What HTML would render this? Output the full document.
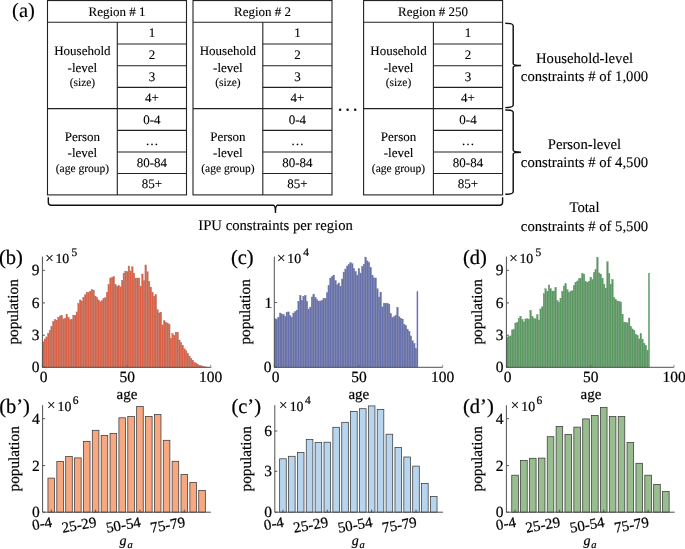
<!DOCTYPE html>
<html><head><meta charset="utf-8"><style>
html,body{margin:0;padding:0;background:#fff;}
body{width:685px;height:549px;overflow:hidden;}
svg{display:block;font-family:"Liberation Serif", serif;fill:#111;text-rendering:geometricPrecision;will-change:transform;}
svg text{fill:#000;stroke:#000;stroke-width:0.12px;}
.ch text{stroke:#000;stroke-width:0.22px;}
</style></head><body>
<svg width="685" height="549" viewBox="0 0 685 549">
<rect x="47.5" y="0.55" width="139.0" height="194.35" stroke="#222" stroke-width="1.1" fill="none"/>
<line x1="47.5" y1="22.3" x2="186.5" y2="22.3" stroke="#222" stroke-width="1.1" fill="none"/>
<line x1="47.5" y1="108.6" x2="186.5" y2="108.6" stroke="#222" stroke-width="1.1" fill="none"/>
<line x1="117.3" y1="22.3" x2="117.3" y2="194.9" stroke="#222" stroke-width="1.1" fill="none"/>
<line x1="117.3" y1="44.0" x2="186.5" y2="44.0" stroke="#222" stroke-width="1.1" fill="none"/>
<line x1="117.3" y1="65.7" x2="186.5" y2="65.7" stroke="#222" stroke-width="1.1" fill="none"/>
<line x1="117.3" y1="87.4" x2="186.5" y2="87.4" stroke="#222" stroke-width="1.1" fill="none"/>
<line x1="117.3" y1="130.4" x2="186.5" y2="130.4" stroke="#222" stroke-width="1.1" fill="none"/>
<line x1="117.3" y1="152.0" x2="186.5" y2="152.0" stroke="#222" stroke-width="1.1" fill="none"/>
<line x1="117.3" y1="173.5" x2="186.5" y2="173.5" stroke="#222" stroke-width="1.1" fill="none"/>
<text x="117.0" y="16.3" font-size="13" text-anchor="middle" >Region # 1</text>
<text x="82.4" y="55.3" font-size="13" text-anchor="middle" >Household</text>
<text x="82.4" y="71.7" font-size="13" text-anchor="middle" >-level</text>
<text x="82.4" y="85.8" font-size="11.5" text-anchor="middle" >(size)</text>
<text x="82.4" y="141.2" font-size="13" text-anchor="middle" >Person</text>
<text x="82.4" y="156.6" font-size="13" text-anchor="middle" >-level</text>
<text x="82.4" y="171.5" font-size="11.5" text-anchor="middle" >(age group)</text>
<text x="151.9" y="37.35" font-size="13" text-anchor="middle" >1</text>
<text x="151.9" y="59.050000000000004" font-size="13" text-anchor="middle" >2</text>
<text x="151.9" y="80.75000000000001" font-size="13" text-anchor="middle" >3</text>
<text x="151.9" y="102.2" font-size="13" text-anchor="middle" >4+</text>
<text x="151.9" y="123.7" font-size="13" text-anchor="middle" >0-4</text>
<text x="151.9" y="145.39999999999998" font-size="13" text-anchor="middle" >…</text>
<text x="151.9" y="166.95" font-size="13" text-anchor="middle" >80-84</text>
<text x="151.9" y="188.39999999999998" font-size="13" text-anchor="middle" >85+</text>
<rect x="193.0" y="0.55" width="139.0" height="194.35" stroke="#222" stroke-width="1.1" fill="none"/>
<line x1="193.0" y1="22.3" x2="332.0" y2="22.3" stroke="#222" stroke-width="1.1" fill="none"/>
<line x1="193.0" y1="108.6" x2="332.0" y2="108.6" stroke="#222" stroke-width="1.1" fill="none"/>
<line x1="262.8" y1="22.3" x2="262.8" y2="194.9" stroke="#222" stroke-width="1.1" fill="none"/>
<line x1="262.8" y1="44.0" x2="332.0" y2="44.0" stroke="#222" stroke-width="1.1" fill="none"/>
<line x1="262.8" y1="65.7" x2="332.0" y2="65.7" stroke="#222" stroke-width="1.1" fill="none"/>
<line x1="262.8" y1="87.4" x2="332.0" y2="87.4" stroke="#222" stroke-width="1.1" fill="none"/>
<line x1="262.8" y1="130.4" x2="332.0" y2="130.4" stroke="#222" stroke-width="1.1" fill="none"/>
<line x1="262.8" y1="152.0" x2="332.0" y2="152.0" stroke="#222" stroke-width="1.1" fill="none"/>
<line x1="262.8" y1="173.5" x2="332.0" y2="173.5" stroke="#222" stroke-width="1.1" fill="none"/>
<text x="262.5" y="16.3" font-size="13" text-anchor="middle" >Region # 2</text>
<text x="227.9" y="55.3" font-size="13" text-anchor="middle" >Household</text>
<text x="227.9" y="71.7" font-size="13" text-anchor="middle" >-level</text>
<text x="227.9" y="85.8" font-size="11.5" text-anchor="middle" >(size)</text>
<text x="227.9" y="141.2" font-size="13" text-anchor="middle" >Person</text>
<text x="227.9" y="156.6" font-size="13" text-anchor="middle" >-level</text>
<text x="227.9" y="171.5" font-size="11.5" text-anchor="middle" >(age group)</text>
<text x="297.4" y="37.35" font-size="13" text-anchor="middle" >1</text>
<text x="297.4" y="59.050000000000004" font-size="13" text-anchor="middle" >2</text>
<text x="297.4" y="80.75000000000001" font-size="13" text-anchor="middle" >3</text>
<text x="297.4" y="102.2" font-size="13" text-anchor="middle" >4+</text>
<text x="297.4" y="123.7" font-size="13" text-anchor="middle" >0-4</text>
<text x="297.4" y="145.39999999999998" font-size="13" text-anchor="middle" >…</text>
<text x="297.4" y="166.95" font-size="13" text-anchor="middle" >80-84</text>
<text x="297.4" y="188.39999999999998" font-size="13" text-anchor="middle" >85+</text>
<rect x="363.6" y="0.55" width="139.0" height="194.35" stroke="#222" stroke-width="1.1" fill="none"/>
<line x1="363.6" y1="22.3" x2="502.6" y2="22.3" stroke="#222" stroke-width="1.1" fill="none"/>
<line x1="363.6" y1="108.6" x2="502.6" y2="108.6" stroke="#222" stroke-width="1.1" fill="none"/>
<line x1="433.40000000000003" y1="22.3" x2="433.40000000000003" y2="194.9" stroke="#222" stroke-width="1.1" fill="none"/>
<line x1="433.40000000000003" y1="44.0" x2="502.6" y2="44.0" stroke="#222" stroke-width="1.1" fill="none"/>
<line x1="433.40000000000003" y1="65.7" x2="502.6" y2="65.7" stroke="#222" stroke-width="1.1" fill="none"/>
<line x1="433.40000000000003" y1="87.4" x2="502.6" y2="87.4" stroke="#222" stroke-width="1.1" fill="none"/>
<line x1="433.40000000000003" y1="130.4" x2="502.6" y2="130.4" stroke="#222" stroke-width="1.1" fill="none"/>
<line x1="433.40000000000003" y1="152.0" x2="502.6" y2="152.0" stroke="#222" stroke-width="1.1" fill="none"/>
<line x1="433.40000000000003" y1="173.5" x2="502.6" y2="173.5" stroke="#222" stroke-width="1.1" fill="none"/>
<text x="433.1" y="16.3" font-size="13" text-anchor="middle" >Region # 250</text>
<text x="398.5" y="55.3" font-size="13" text-anchor="middle" >Household</text>
<text x="398.5" y="71.7" font-size="13" text-anchor="middle" >-level</text>
<text x="398.5" y="85.8" font-size="11.5" text-anchor="middle" >(size)</text>
<text x="398.5" y="141.2" font-size="13" text-anchor="middle" >Person</text>
<text x="398.5" y="156.6" font-size="13" text-anchor="middle" >-level</text>
<text x="398.5" y="171.5" font-size="11.5" text-anchor="middle" >(age group)</text>
<text x="468.0" y="37.35" font-size="13" text-anchor="middle" >1</text>
<text x="468.0" y="59.050000000000004" font-size="13" text-anchor="middle" >2</text>
<text x="468.0" y="80.75000000000001" font-size="13" text-anchor="middle" >3</text>
<text x="468.0" y="102.2" font-size="13" text-anchor="middle" >4+</text>
<text x="468.0" y="123.7" font-size="13" text-anchor="middle" >0-4</text>
<text x="468.0" y="145.39999999999998" font-size="13" text-anchor="middle" >…</text>
<text x="468.0" y="166.95" font-size="13" text-anchor="middle" >80-84</text>
<text x="468.0" y="188.39999999999998" font-size="13" text-anchor="middle" >85+</text>
<circle cx="340.1" cy="109.8" r="1.25" fill="#111"/>
<circle cx="347.6" cy="109.8" r="1.25" fill="#111"/>
<circle cx="355.2" cy="109.8" r="1.25" fill="#111"/>
<text x="12.1" y="17.0" font-size="20.5" text-anchor="start" >(a)</text>
<path d="M505.3,23.3 Q513.2,23.3 513.2,25.8 L513.2,63.650000000000006 Q513.2,65.45 521.0,65.45 Q513.2,65.45 513.2,67.25 L513.2,105.1 Q513.2,107.6 505.3,107.6" stroke="#111" stroke-width="1.45" fill="none"/>
<path d="M505.3,110.0 Q513.2,110.0 513.2,112.5 L513.2,150.35 Q513.2,152.15 521.0,152.15 Q513.2,152.15 513.2,153.95000000000002 L513.2,191.8 Q513.2,194.3 505.3,194.3" stroke="#111" stroke-width="1.45" fill="none"/>
<path d="M48.3,197.3 L48.3,202.3 Q48.3,205.3 51.3,205.3 L273.45,205.3 Q275.45,205.3 275.45,213.10000000000002 Q275.45,205.3 277.45,205.3 L499.6,205.3 Q502.6,205.3 502.6,202.3 L502.6,197.3" stroke="#111" stroke-width="1.4" fill="none"/>
<text x="275.6" y="229.5" font-size="14.7" text-anchor="middle" >IPU constraints per region</text>
<text x="584.5" y="62.5" font-size="14.7" text-anchor="middle" >Household-level</text>
<text x="584.5" y="80.5" font-size="14.7" text-anchor="middle" >constraints # of 1,000</text>
<text x="584.5" y="149" font-size="14.7" text-anchor="middle" >Person-level</text>
<text x="584.5" y="167" font-size="14.7" text-anchor="middle" >constraints # of 4,500</text>
<text x="584.5" y="212" font-size="14.7" text-anchor="middle" >Total</text>
<text x="584.5" y="230.5" font-size="14.7" text-anchor="middle" >constraints # of 5,500</text>
<g class="ch">
<rect x="42.40" y="341.80" width="1.680" height="25.50" fill="#de5f43" stroke="#b07a6e" stroke-width="0.35"/>
<rect x="44.08" y="338.90" width="1.680" height="28.40" fill="#de5f43" stroke="#b07a6e" stroke-width="0.35"/>
<rect x="45.76" y="336.90" width="1.680" height="30.40" fill="#de5f43" stroke="#b07a6e" stroke-width="0.35"/>
<rect x="47.44" y="333.20" width="1.680" height="34.10" fill="#de5f43" stroke="#b07a6e" stroke-width="0.35"/>
<rect x="49.12" y="330.30" width="1.680" height="37.00" fill="#de5f43" stroke="#b07a6e" stroke-width="0.35"/>
<rect x="50.80" y="326.20" width="1.680" height="41.10" fill="#de5f43" stroke="#b07a6e" stroke-width="0.35"/>
<rect x="52.48" y="321.30" width="1.680" height="46.00" fill="#de5f43" stroke="#b07a6e" stroke-width="0.35"/>
<rect x="54.16" y="319.30" width="1.680" height="48.00" fill="#de5f43" stroke="#b07a6e" stroke-width="0.35"/>
<rect x="55.84" y="320.10" width="1.680" height="47.20" fill="#de5f43" stroke="#b07a6e" stroke-width="0.35"/>
<rect x="57.52" y="317.20" width="1.680" height="50.10" fill="#de5f43" stroke="#b07a6e" stroke-width="0.35"/>
<rect x="59.20" y="316.00" width="1.680" height="51.30" fill="#de5f43" stroke="#b07a6e" stroke-width="0.35"/>
<rect x="60.88" y="315.20" width="1.680" height="52.10" fill="#de5f43" stroke="#b07a6e" stroke-width="0.35"/>
<rect x="62.56" y="318.90" width="1.680" height="48.40" fill="#de5f43" stroke="#b07a6e" stroke-width="0.35"/>
<rect x="64.24" y="318.40" width="1.680" height="48.90" fill="#de5f43" stroke="#b07a6e" stroke-width="0.35"/>
<rect x="65.92" y="314.60" width="1.680" height="52.70" fill="#de5f43" stroke="#b07a6e" stroke-width="0.35"/>
<rect x="67.60" y="317.20" width="1.680" height="50.10" fill="#de5f43" stroke="#b07a6e" stroke-width="0.35"/>
<rect x="69.28" y="319.70" width="1.680" height="47.60" fill="#de5f43" stroke="#b07a6e" stroke-width="0.35"/>
<rect x="70.96" y="319.30" width="1.680" height="48.00" fill="#de5f43" stroke="#b07a6e" stroke-width="0.35"/>
<rect x="72.64" y="315.20" width="1.680" height="52.10" fill="#de5f43" stroke="#b07a6e" stroke-width="0.35"/>
<rect x="74.32" y="315.20" width="1.680" height="52.10" fill="#de5f43" stroke="#b07a6e" stroke-width="0.35"/>
<rect x="76.00" y="311.90" width="1.680" height="55.40" fill="#de5f43" stroke="#b07a6e" stroke-width="0.35"/>
<rect x="77.68" y="303.30" width="1.680" height="64.00" fill="#de5f43" stroke="#b07a6e" stroke-width="0.35"/>
<rect x="79.36" y="299.90" width="1.680" height="67.40" fill="#de5f43" stroke="#b07a6e" stroke-width="0.35"/>
<rect x="81.04" y="301.00" width="1.680" height="66.30" fill="#de5f43" stroke="#b07a6e" stroke-width="0.35"/>
<rect x="82.72" y="297.20" width="1.680" height="70.10" fill="#de5f43" stroke="#b07a6e" stroke-width="0.35"/>
<rect x="84.40" y="294.80" width="1.680" height="72.50" fill="#de5f43" stroke="#b07a6e" stroke-width="0.35"/>
<rect x="86.08" y="292.20" width="1.680" height="75.10" fill="#de5f43" stroke="#b07a6e" stroke-width="0.35"/>
<rect x="87.76" y="292.20" width="1.680" height="75.10" fill="#de5f43" stroke="#b07a6e" stroke-width="0.35"/>
<rect x="89.44" y="291.10" width="1.680" height="76.20" fill="#de5f43" stroke="#b07a6e" stroke-width="0.35"/>
<rect x="91.12" y="289.30" width="1.680" height="78.00" fill="#de5f43" stroke="#b07a6e" stroke-width="0.35"/>
<rect x="92.80" y="290.10" width="1.680" height="77.20" fill="#de5f43" stroke="#b07a6e" stroke-width="0.35"/>
<rect x="94.48" y="296.10" width="1.680" height="71.20" fill="#de5f43" stroke="#b07a6e" stroke-width="0.35"/>
<rect x="96.16" y="297.70" width="1.680" height="69.60" fill="#de5f43" stroke="#b07a6e" stroke-width="0.35"/>
<rect x="97.84" y="299.90" width="1.680" height="67.40" fill="#de5f43" stroke="#b07a6e" stroke-width="0.35"/>
<rect x="99.52" y="301.70" width="1.680" height="65.60" fill="#de5f43" stroke="#b07a6e" stroke-width="0.35"/>
<rect x="101.20" y="300.40" width="1.680" height="66.90" fill="#de5f43" stroke="#b07a6e" stroke-width="0.35"/>
<rect x="102.88" y="298.30" width="1.680" height="69.00" fill="#de5f43" stroke="#b07a6e" stroke-width="0.35"/>
<rect x="104.56" y="297.70" width="1.680" height="69.60" fill="#de5f43" stroke="#b07a6e" stroke-width="0.35"/>
<rect x="106.24" y="292.20" width="1.680" height="75.10" fill="#de5f43" stroke="#b07a6e" stroke-width="0.35"/>
<rect x="107.92" y="284.60" width="1.680" height="82.70" fill="#de5f43" stroke="#b07a6e" stroke-width="0.35"/>
<rect x="109.60" y="278.00" width="1.680" height="89.30" fill="#de5f43" stroke="#b07a6e" stroke-width="0.35"/>
<rect x="111.28" y="277.30" width="1.680" height="90.00" fill="#de5f43" stroke="#b07a6e" stroke-width="0.35"/>
<rect x="112.96" y="276.60" width="1.680" height="90.70" fill="#de5f43" stroke="#b07a6e" stroke-width="0.35"/>
<rect x="114.64" y="284.20" width="1.680" height="83.10" fill="#de5f43" stroke="#b07a6e" stroke-width="0.35"/>
<rect x="116.32" y="286.20" width="1.680" height="81.10" fill="#de5f43" stroke="#b07a6e" stroke-width="0.35"/>
<rect x="118.00" y="285.70" width="1.680" height="81.60" fill="#de5f43" stroke="#b07a6e" stroke-width="0.35"/>
<rect x="119.68" y="286.80" width="1.680" height="80.50" fill="#de5f43" stroke="#b07a6e" stroke-width="0.35"/>
<rect x="121.36" y="280.20" width="1.680" height="87.10" fill="#de5f43" stroke="#b07a6e" stroke-width="0.35"/>
<rect x="123.04" y="273.10" width="1.680" height="94.20" fill="#de5f43" stroke="#b07a6e" stroke-width="0.35"/>
<rect x="124.72" y="271.10" width="1.680" height="96.20" fill="#de5f43" stroke="#b07a6e" stroke-width="0.35"/>
<rect x="126.40" y="271.50" width="1.680" height="95.80" fill="#de5f43" stroke="#b07a6e" stroke-width="0.35"/>
<rect x="128.08" y="266.00" width="1.680" height="101.30" fill="#de5f43" stroke="#b07a6e" stroke-width="0.35"/>
<rect x="129.76" y="270.90" width="1.680" height="96.40" fill="#de5f43" stroke="#b07a6e" stroke-width="0.35"/>
<rect x="131.44" y="266.80" width="1.680" height="100.50" fill="#de5f43" stroke="#b07a6e" stroke-width="0.35"/>
<rect x="133.12" y="273.10" width="1.680" height="94.20" fill="#de5f43" stroke="#b07a6e" stroke-width="0.35"/>
<rect x="134.80" y="278.00" width="1.680" height="89.30" fill="#de5f43" stroke="#b07a6e" stroke-width="0.35"/>
<rect x="136.48" y="278.00" width="1.680" height="89.30" fill="#de5f43" stroke="#b07a6e" stroke-width="0.35"/>
<rect x="138.16" y="278.00" width="1.680" height="89.30" fill="#de5f43" stroke="#b07a6e" stroke-width="0.35"/>
<rect x="139.84" y="286.00" width="1.680" height="81.30" fill="#de5f43" stroke="#b07a6e" stroke-width="0.35"/>
<rect x="141.52" y="274.00" width="1.680" height="93.30" fill="#de5f43" stroke="#b07a6e" stroke-width="0.35"/>
<rect x="143.20" y="280.80" width="1.680" height="86.50" fill="#de5f43" stroke="#b07a6e" stroke-width="0.35"/>
<rect x="144.88" y="264.90" width="1.680" height="102.40" fill="#de5f43" stroke="#b07a6e" stroke-width="0.35"/>
<rect x="146.56" y="271.80" width="1.680" height="95.50" fill="#de5f43" stroke="#b07a6e" stroke-width="0.35"/>
<rect x="148.24" y="281.30" width="1.680" height="86.00" fill="#de5f43" stroke="#b07a6e" stroke-width="0.35"/>
<rect x="149.92" y="287.00" width="1.680" height="80.30" fill="#de5f43" stroke="#b07a6e" stroke-width="0.35"/>
<rect x="151.60" y="292.20" width="1.680" height="75.10" fill="#de5f43" stroke="#b07a6e" stroke-width="0.35"/>
<rect x="153.28" y="296.30" width="1.680" height="71.00" fill="#de5f43" stroke="#b07a6e" stroke-width="0.35"/>
<rect x="154.96" y="294.80" width="1.680" height="72.50" fill="#de5f43" stroke="#b07a6e" stroke-width="0.35"/>
<rect x="156.64" y="309.60" width="1.680" height="57.70" fill="#de5f43" stroke="#b07a6e" stroke-width="0.35"/>
<rect x="158.32" y="312.90" width="1.680" height="54.40" fill="#de5f43" stroke="#b07a6e" stroke-width="0.35"/>
<rect x="160.00" y="312.10" width="1.680" height="55.20" fill="#de5f43" stroke="#b07a6e" stroke-width="0.35"/>
<rect x="161.68" y="324.90" width="1.680" height="42.40" fill="#de5f43" stroke="#b07a6e" stroke-width="0.35"/>
<rect x="163.36" y="320.50" width="1.680" height="46.80" fill="#de5f43" stroke="#b07a6e" stroke-width="0.35"/>
<rect x="165.04" y="322.20" width="1.680" height="45.10" fill="#de5f43" stroke="#b07a6e" stroke-width="0.35"/>
<rect x="166.72" y="323.00" width="1.680" height="44.30" fill="#de5f43" stroke="#b07a6e" stroke-width="0.35"/>
<rect x="168.40" y="324.10" width="1.680" height="43.20" fill="#de5f43" stroke="#b07a6e" stroke-width="0.35"/>
<rect x="170.08" y="338.20" width="1.680" height="29.10" fill="#de5f43" stroke="#b07a6e" stroke-width="0.35"/>
<rect x="171.76" y="333.60" width="1.680" height="33.70" fill="#de5f43" stroke="#b07a6e" stroke-width="0.35"/>
<rect x="173.44" y="335.30" width="1.680" height="32.00" fill="#de5f43" stroke="#b07a6e" stroke-width="0.35"/>
<rect x="175.12" y="332.00" width="1.680" height="35.30" fill="#de5f43" stroke="#b07a6e" stroke-width="0.35"/>
<rect x="176.80" y="332.20" width="1.680" height="35.10" fill="#de5f43" stroke="#b07a6e" stroke-width="0.35"/>
<rect x="178.48" y="340.00" width="1.680" height="27.30" fill="#de5f43" stroke="#b07a6e" stroke-width="0.35"/>
<rect x="180.16" y="342.50" width="1.680" height="24.80" fill="#de5f43" stroke="#b07a6e" stroke-width="0.35"/>
<rect x="181.84" y="345.50" width="1.680" height="21.80" fill="#de5f43" stroke="#b07a6e" stroke-width="0.35"/>
<rect x="183.52" y="348.80" width="1.680" height="18.50" fill="#de5f43" stroke="#b07a6e" stroke-width="0.35"/>
<rect x="185.20" y="350.80" width="1.680" height="16.50" fill="#de5f43" stroke="#b07a6e" stroke-width="0.35"/>
<rect x="186.88" y="353.30" width="1.680" height="14.00" fill="#de5f43" stroke="#b07a6e" stroke-width="0.35"/>
<rect x="188.56" y="356.00" width="1.680" height="11.30" fill="#de5f43" stroke="#b07a6e" stroke-width="0.35"/>
<rect x="190.24" y="358.20" width="1.680" height="9.10" fill="#de5f43" stroke="#b07a6e" stroke-width="0.35"/>
<rect x="191.92" y="360.20" width="1.680" height="7.10" fill="#de5f43" stroke="#b07a6e" stroke-width="0.35"/>
<rect x="193.60" y="362.30" width="1.680" height="5.00" fill="#de5f43" stroke="#b07a6e" stroke-width="0.35"/>
<rect x="195.28" y="363.10" width="1.680" height="4.20" fill="#de5f43" stroke="#b07a6e" stroke-width="0.35"/>
<rect x="196.96" y="364.20" width="1.680" height="3.10" fill="#de5f43" stroke="#b07a6e" stroke-width="0.35"/>
<rect x="198.64" y="365.20" width="1.680" height="2.10" fill="#de5f43" stroke="#b07a6e" stroke-width="0.35"/>
<rect x="200.32" y="365.80" width="1.680" height="1.50" fill="#de5f43" stroke="#b07a6e" stroke-width="0.35"/>
<rect x="202.00" y="366.40" width="1.680" height="0.90" fill="#de5f43" stroke="#b07a6e" stroke-width="0.35"/>
<rect x="203.68" y="366.60" width="1.680" height="0.70" fill="#de5f43" stroke="#b07a6e" stroke-width="0.35"/>
<rect x="205.36" y="367.00" width="1.680" height="0.30" fill="#de5f43" stroke="#b07a6e" stroke-width="0.35"/>
<rect x="207.04" y="367.20" width="1.680" height="0.10" fill="#de5f43" stroke="#b07a6e" stroke-width="0.35"/>
<rect x="208.72" y="367.20" width="1.680" height="0.10" fill="#de5f43" stroke="#b07a6e" stroke-width="0.35"/>
<rect x="210.40" y="367.20" width="1.680" height="0.10" fill="#de5f43" stroke="#b07a6e" stroke-width="0.35"/>
<path d="M42.4,256.5 L42.4,367.3 L210.6,367.3" stroke="#505050" stroke-width="1" fill="none"/>
<line x1="42.4" y1="367.3" x2="44.9" y2="367.3" stroke="#505050" stroke-width="1"/>
<text x="39.6" y="372.3" font-size="15.5" text-anchor="end" >0</text>
<line x1="42.4" y1="335.2" x2="44.9" y2="335.2" stroke="#505050" stroke-width="1"/>
<text x="39.6" y="340.2" font-size="15.5" text-anchor="end" >3</text>
<line x1="42.4" y1="302.9" x2="44.9" y2="302.9" stroke="#505050" stroke-width="1"/>
<text x="39.6" y="307.9" font-size="15.5" text-anchor="end" >6</text>
<line x1="42.4" y1="270.3" x2="44.9" y2="270.3" stroke="#505050" stroke-width="1"/>
<text x="39.6" y="275.3" font-size="15.5" text-anchor="end" >9</text>
<line x1="42.40" y1="367.3" x2="42.40" y2="364.8" stroke="#505050" stroke-width="0.9" stroke-opacity="0.7"/>
<text x="43.60" y="381.9" font-size="15.5" text-anchor="middle" >0</text>
<line x1="127.15" y1="367.3" x2="127.15" y2="364.8" stroke="#505050" stroke-width="0.9" stroke-opacity="0.7"/>
<text x="127.15" y="381.9" font-size="15.5" text-anchor="middle" >50</text>
<line x1="210.70" y1="367.3" x2="210.70" y2="364.8" stroke="#505050" stroke-width="0.9" stroke-opacity="0.7"/>
<text x="210.70" y="381.9" font-size="15.5" text-anchor="middle" >100</text>
<text x="126.9" y="398.7" font-size="15" text-anchor="middle" >age</text>
<text x="45.199999999999996" y="262.6" font-size="15" text-anchor="start" >×</text>
<text x="55.4" y="262.6" font-size="13.8" text-anchor="start" >10</text>
<text x="71.4" y="255.8" font-size="11.5" text-anchor="start" >5</text>
<text x="0" y="0" font-size="15.3" text-anchor="middle" transform="translate(18.4,311.9) rotate(-90)">population</text>
<text x="-1.0" y="264.3" font-size="20.5" text-anchor="start" >(b)</text>
<rect x="274.30" y="318.80" width="1.676" height="48.50" fill="#6670ae" stroke="#7a7f9e" stroke-width="0.35"/>
<rect x="275.98" y="319.10" width="1.676" height="48.20" fill="#6670ae" stroke="#7a7f9e" stroke-width="0.35"/>
<rect x="277.65" y="317.20" width="1.676" height="50.10" fill="#6670ae" stroke="#7a7f9e" stroke-width="0.35"/>
<rect x="279.33" y="313.00" width="1.676" height="54.30" fill="#6670ae" stroke="#7a7f9e" stroke-width="0.35"/>
<rect x="281.00" y="313.90" width="1.676" height="53.40" fill="#6670ae" stroke="#7a7f9e" stroke-width="0.35"/>
<rect x="282.68" y="314.40" width="1.676" height="52.90" fill="#6670ae" stroke="#7a7f9e" stroke-width="0.35"/>
<rect x="284.36" y="316.30" width="1.676" height="51.00" fill="#6670ae" stroke="#7a7f9e" stroke-width="0.35"/>
<rect x="286.03" y="312.20" width="1.676" height="55.10" fill="#6670ae" stroke="#7a7f9e" stroke-width="0.35"/>
<rect x="287.71" y="311.90" width="1.676" height="55.40" fill="#6670ae" stroke="#7a7f9e" stroke-width="0.35"/>
<rect x="289.38" y="315.80" width="1.676" height="51.50" fill="#6670ae" stroke="#7a7f9e" stroke-width="0.35"/>
<rect x="291.06" y="317.20" width="1.676" height="50.10" fill="#6670ae" stroke="#7a7f9e" stroke-width="0.35"/>
<rect x="292.74" y="313.00" width="1.676" height="54.30" fill="#6670ae" stroke="#7a7f9e" stroke-width="0.35"/>
<rect x="294.41" y="311.50" width="1.676" height="55.80" fill="#6670ae" stroke="#7a7f9e" stroke-width="0.35"/>
<rect x="296.09" y="310.10" width="1.676" height="57.20" fill="#6670ae" stroke="#7a7f9e" stroke-width="0.35"/>
<rect x="297.76" y="301.30" width="1.676" height="66.00" fill="#6670ae" stroke="#7a7f9e" stroke-width="0.35"/>
<rect x="299.44" y="295.30" width="1.676" height="72.00" fill="#6670ae" stroke="#7a7f9e" stroke-width="0.35"/>
<rect x="301.12" y="300.20" width="1.676" height="67.10" fill="#6670ae" stroke="#7a7f9e" stroke-width="0.35"/>
<rect x="302.79" y="296.20" width="1.676" height="71.10" fill="#6670ae" stroke="#7a7f9e" stroke-width="0.35"/>
<rect x="304.47" y="295.30" width="1.676" height="72.00" fill="#6670ae" stroke="#7a7f9e" stroke-width="0.35"/>
<rect x="306.14" y="301.30" width="1.676" height="66.00" fill="#6670ae" stroke="#7a7f9e" stroke-width="0.35"/>
<rect x="307.82" y="309.00" width="1.676" height="58.30" fill="#6670ae" stroke="#7a7f9e" stroke-width="0.35"/>
<rect x="309.50" y="307.10" width="1.676" height="60.20" fill="#6670ae" stroke="#7a7f9e" stroke-width="0.35"/>
<rect x="311.17" y="297.00" width="1.676" height="70.30" fill="#6670ae" stroke="#7a7f9e" stroke-width="0.35"/>
<rect x="312.85" y="294.10" width="1.676" height="73.20" fill="#6670ae" stroke="#7a7f9e" stroke-width="0.35"/>
<rect x="314.52" y="297.40" width="1.676" height="69.90" fill="#6670ae" stroke="#7a7f9e" stroke-width="0.35"/>
<rect x="316.20" y="299.80" width="1.676" height="67.50" fill="#6670ae" stroke="#7a7f9e" stroke-width="0.35"/>
<rect x="317.88" y="301.10" width="1.676" height="66.20" fill="#6670ae" stroke="#7a7f9e" stroke-width="0.35"/>
<rect x="319.55" y="300.90" width="1.676" height="66.40" fill="#6670ae" stroke="#7a7f9e" stroke-width="0.35"/>
<rect x="321.23" y="300.40" width="1.676" height="66.90" fill="#6670ae" stroke="#7a7f9e" stroke-width="0.35"/>
<rect x="322.90" y="298.70" width="1.676" height="68.60" fill="#6670ae" stroke="#7a7f9e" stroke-width="0.35"/>
<rect x="324.58" y="298.20" width="1.676" height="69.10" fill="#6670ae" stroke="#7a7f9e" stroke-width="0.35"/>
<rect x="326.26" y="292.70" width="1.676" height="74.60" fill="#6670ae" stroke="#7a7f9e" stroke-width="0.35"/>
<rect x="327.93" y="285.60" width="1.676" height="81.70" fill="#6670ae" stroke="#7a7f9e" stroke-width="0.35"/>
<rect x="329.61" y="278.00" width="1.676" height="89.30" fill="#6670ae" stroke="#7a7f9e" stroke-width="0.35"/>
<rect x="331.28" y="276.30" width="1.676" height="91.00" fill="#6670ae" stroke="#7a7f9e" stroke-width="0.35"/>
<rect x="332.96" y="275.00" width="1.676" height="92.30" fill="#6670ae" stroke="#7a7f9e" stroke-width="0.35"/>
<rect x="334.64" y="280.40" width="1.676" height="86.90" fill="#6670ae" stroke="#7a7f9e" stroke-width="0.35"/>
<rect x="336.31" y="284.70" width="1.676" height="82.60" fill="#6670ae" stroke="#7a7f9e" stroke-width="0.35"/>
<rect x="337.99" y="282.90" width="1.676" height="84.40" fill="#6670ae" stroke="#7a7f9e" stroke-width="0.35"/>
<rect x="339.66" y="286.10" width="1.676" height="81.20" fill="#6670ae" stroke="#7a7f9e" stroke-width="0.35"/>
<rect x="341.34" y="279.00" width="1.676" height="88.30" fill="#6670ae" stroke="#7a7f9e" stroke-width="0.35"/>
<rect x="343.02" y="272.00" width="1.676" height="95.30" fill="#6670ae" stroke="#7a7f9e" stroke-width="0.35"/>
<rect x="344.69" y="269.00" width="1.676" height="98.30" fill="#6670ae" stroke="#7a7f9e" stroke-width="0.35"/>
<rect x="346.37" y="266.00" width="1.676" height="101.30" fill="#6670ae" stroke="#7a7f9e" stroke-width="0.35"/>
<rect x="348.04" y="264.20" width="1.676" height="103.10" fill="#6670ae" stroke="#7a7f9e" stroke-width="0.35"/>
<rect x="349.72" y="262.60" width="1.676" height="104.70" fill="#6670ae" stroke="#7a7f9e" stroke-width="0.35"/>
<rect x="351.40" y="263.70" width="1.676" height="103.60" fill="#6670ae" stroke="#7a7f9e" stroke-width="0.35"/>
<rect x="353.07" y="268.60" width="1.676" height="98.70" fill="#6670ae" stroke="#7a7f9e" stroke-width="0.35"/>
<rect x="354.75" y="271.30" width="1.676" height="96.00" fill="#6670ae" stroke="#7a7f9e" stroke-width="0.35"/>
<rect x="356.42" y="275.10" width="1.676" height="92.20" fill="#6670ae" stroke="#7a7f9e" stroke-width="0.35"/>
<rect x="358.10" y="268.60" width="1.676" height="98.70" fill="#6670ae" stroke="#7a7f9e" stroke-width="0.35"/>
<rect x="359.78" y="273.00" width="1.676" height="94.30" fill="#6670ae" stroke="#7a7f9e" stroke-width="0.35"/>
<rect x="361.45" y="266.40" width="1.676" height="100.90" fill="#6670ae" stroke="#7a7f9e" stroke-width="0.35"/>
<rect x="363.13" y="264.20" width="1.676" height="103.10" fill="#6670ae" stroke="#7a7f9e" stroke-width="0.35"/>
<rect x="364.80" y="257.10" width="1.676" height="110.20" fill="#6670ae" stroke="#7a7f9e" stroke-width="0.35"/>
<rect x="366.48" y="260.90" width="1.676" height="106.40" fill="#6670ae" stroke="#7a7f9e" stroke-width="0.35"/>
<rect x="368.16" y="262.60" width="1.676" height="104.70" fill="#6670ae" stroke="#7a7f9e" stroke-width="0.35"/>
<rect x="369.83" y="267.50" width="1.676" height="99.80" fill="#6670ae" stroke="#7a7f9e" stroke-width="0.35"/>
<rect x="371.51" y="275.10" width="1.676" height="92.20" fill="#6670ae" stroke="#7a7f9e" stroke-width="0.35"/>
<rect x="373.18" y="277.90" width="1.676" height="89.40" fill="#6670ae" stroke="#7a7f9e" stroke-width="0.35"/>
<rect x="374.86" y="277.90" width="1.676" height="89.40" fill="#6670ae" stroke="#7a7f9e" stroke-width="0.35"/>
<rect x="376.54" y="288.80" width="1.676" height="78.50" fill="#6670ae" stroke="#7a7f9e" stroke-width="0.35"/>
<rect x="378.21" y="297.00" width="1.676" height="70.30" fill="#6670ae" stroke="#7a7f9e" stroke-width="0.35"/>
<rect x="379.89" y="292.10" width="1.676" height="75.20" fill="#6670ae" stroke="#7a7f9e" stroke-width="0.35"/>
<rect x="381.56" y="306.90" width="1.676" height="60.40" fill="#6670ae" stroke="#7a7f9e" stroke-width="0.35"/>
<rect x="383.24" y="303.10" width="1.676" height="64.20" fill="#6670ae" stroke="#7a7f9e" stroke-width="0.35"/>
<rect x="384.92" y="303.70" width="1.676" height="63.60" fill="#6670ae" stroke="#7a7f9e" stroke-width="0.35"/>
<rect x="386.59" y="303.10" width="1.676" height="64.20" fill="#6670ae" stroke="#7a7f9e" stroke-width="0.35"/>
<rect x="388.27" y="304.20" width="1.676" height="63.10" fill="#6670ae" stroke="#7a7f9e" stroke-width="0.35"/>
<rect x="389.94" y="313.50" width="1.676" height="53.80" fill="#6670ae" stroke="#7a7f9e" stroke-width="0.35"/>
<rect x="391.62" y="317.30" width="1.676" height="50.00" fill="#6670ae" stroke="#7a7f9e" stroke-width="0.35"/>
<rect x="393.30" y="316.80" width="1.676" height="50.50" fill="#6670ae" stroke="#7a7f9e" stroke-width="0.35"/>
<rect x="394.97" y="315.10" width="1.676" height="52.20" fill="#6670ae" stroke="#7a7f9e" stroke-width="0.35"/>
<rect x="396.65" y="307.30" width="1.676" height="60.00" fill="#6670ae" stroke="#7a7f9e" stroke-width="0.35"/>
<rect x="398.32" y="316.80" width="1.676" height="50.50" fill="#6670ae" stroke="#7a7f9e" stroke-width="0.35"/>
<rect x="400.00" y="318.20" width="1.676" height="49.10" fill="#6670ae" stroke="#7a7f9e" stroke-width="0.35"/>
<rect x="401.68" y="319.00" width="1.676" height="48.30" fill="#6670ae" stroke="#7a7f9e" stroke-width="0.35"/>
<rect x="403.35" y="324.40" width="1.676" height="42.90" fill="#6670ae" stroke="#7a7f9e" stroke-width="0.35"/>
<rect x="405.03" y="325.50" width="1.676" height="41.80" fill="#6670ae" stroke="#7a7f9e" stroke-width="0.35"/>
<rect x="406.70" y="329.10" width="1.676" height="38.20" fill="#6670ae" stroke="#7a7f9e" stroke-width="0.35"/>
<rect x="408.38" y="331.30" width="1.676" height="36.00" fill="#6670ae" stroke="#7a7f9e" stroke-width="0.35"/>
<rect x="410.06" y="335.90" width="1.676" height="31.40" fill="#6670ae" stroke="#7a7f9e" stroke-width="0.35"/>
<rect x="411.73" y="340.80" width="1.676" height="26.50" fill="#6670ae" stroke="#7a7f9e" stroke-width="0.35"/>
<rect x="413.41" y="343.30" width="1.676" height="24.00" fill="#6670ae" stroke="#7a7f9e" stroke-width="0.35"/>
<rect x="415.08" y="348.50" width="1.676" height="18.80" fill="#6670ae" stroke="#7a7f9e" stroke-width="0.35"/>
<rect x="416.66" y="291.3" width="1.45" height="76.00" fill="#6670ae"/>
<path d="M274.3,256.5 L274.3,367.3 L442.6,367.3" stroke="#505050" stroke-width="1" fill="none"/>
<line x1="274.3" y1="367.3" x2="276.8" y2="367.3" stroke="#505050" stroke-width="1"/>
<text x="271.5" y="372.3" font-size="15.5" text-anchor="end" >0</text>
<line x1="274.3" y1="302.5" x2="276.8" y2="302.5" stroke="#505050" stroke-width="1"/>
<text x="272.3" y="307.5" font-size="15.5" text-anchor="end" >1</text>
<line x1="274.30" y1="367.3" x2="274.30" y2="364.8" stroke="#505050" stroke-width="0.9" stroke-opacity="0.7"/>
<text x="275.50" y="381.9" font-size="15.5" text-anchor="middle" >0</text>
<line x1="359.10" y1="367.3" x2="359.10" y2="364.8" stroke="#505050" stroke-width="0.9" stroke-opacity="0.7"/>
<text x="359.10" y="381.9" font-size="15.5" text-anchor="middle" >50</text>
<line x1="442.70" y1="367.3" x2="442.70" y2="364.8" stroke="#505050" stroke-width="0.9" stroke-opacity="0.7"/>
<text x="442.70" y="381.9" font-size="15.5" text-anchor="middle" >100</text>
<text x="358.8" y="398.7" font-size="15" text-anchor="middle" >age</text>
<text x="277.1" y="262.6" font-size="15" text-anchor="start" >×</text>
<text x="287.3" y="262.6" font-size="13.8" text-anchor="start" >10</text>
<text x="303.3" y="255.8" font-size="11.5" text-anchor="start" >4</text>
<text x="0" y="0" font-size="15.3" text-anchor="middle" transform="translate(250.3,311.9) rotate(-90)">population</text>
<text x="230.9" y="264.3" font-size="20.5" text-anchor="start" >(c)</text>
<rect x="506.40" y="337.00" width="1.670" height="30.30" fill="#589960" stroke="#779b7b" stroke-width="0.35"/>
<rect x="508.07" y="336.40" width="1.670" height="30.90" fill="#589960" stroke="#779b7b" stroke-width="0.35"/>
<rect x="509.74" y="335.90" width="1.670" height="31.40" fill="#589960" stroke="#779b7b" stroke-width="0.35"/>
<rect x="511.41" y="329.90" width="1.670" height="37.40" fill="#589960" stroke="#779b7b" stroke-width="0.35"/>
<rect x="513.08" y="329.10" width="1.670" height="38.20" fill="#589960" stroke="#779b7b" stroke-width="0.35"/>
<rect x="514.75" y="323.00" width="1.670" height="44.30" fill="#589960" stroke="#779b7b" stroke-width="0.35"/>
<rect x="516.42" y="322.20" width="1.670" height="45.10" fill="#589960" stroke="#779b7b" stroke-width="0.35"/>
<rect x="518.09" y="318.20" width="1.670" height="49.10" fill="#589960" stroke="#779b7b" stroke-width="0.35"/>
<rect x="519.76" y="316.20" width="1.670" height="51.10" fill="#589960" stroke="#779b7b" stroke-width="0.35"/>
<rect x="521.43" y="319.30" width="1.670" height="48.00" fill="#589960" stroke="#779b7b" stroke-width="0.35"/>
<rect x="523.10" y="321.90" width="1.670" height="45.40" fill="#589960" stroke="#779b7b" stroke-width="0.35"/>
<rect x="524.77" y="319.00" width="1.670" height="48.30" fill="#589960" stroke="#779b7b" stroke-width="0.35"/>
<rect x="526.44" y="318.60" width="1.670" height="48.70" fill="#589960" stroke="#779b7b" stroke-width="0.35"/>
<rect x="528.11" y="319.30" width="1.670" height="48.00" fill="#589960" stroke="#779b7b" stroke-width="0.35"/>
<rect x="529.78" y="310.20" width="1.670" height="57.10" fill="#589960" stroke="#779b7b" stroke-width="0.35"/>
<rect x="531.45" y="316.20" width="1.670" height="51.10" fill="#589960" stroke="#779b7b" stroke-width="0.35"/>
<rect x="533.12" y="318.60" width="1.670" height="48.70" fill="#589960" stroke="#779b7b" stroke-width="0.35"/>
<rect x="534.79" y="318.60" width="1.670" height="48.70" fill="#589960" stroke="#779b7b" stroke-width="0.35"/>
<rect x="536.46" y="314.60" width="1.670" height="52.70" fill="#589960" stroke="#779b7b" stroke-width="0.35"/>
<rect x="538.13" y="320.10" width="1.670" height="47.20" fill="#589960" stroke="#779b7b" stroke-width="0.35"/>
<rect x="539.80" y="308.90" width="1.670" height="58.40" fill="#589960" stroke="#779b7b" stroke-width="0.35"/>
<rect x="541.47" y="306.70" width="1.670" height="60.60" fill="#589960" stroke="#779b7b" stroke-width="0.35"/>
<rect x="543.14" y="293.70" width="1.670" height="73.60" fill="#589960" stroke="#779b7b" stroke-width="0.35"/>
<rect x="544.81" y="288.80" width="1.670" height="78.50" fill="#589960" stroke="#779b7b" stroke-width="0.35"/>
<rect x="546.48" y="291.20" width="1.670" height="76.10" fill="#589960" stroke="#779b7b" stroke-width="0.35"/>
<rect x="548.15" y="284.90" width="1.670" height="82.40" fill="#589960" stroke="#779b7b" stroke-width="0.35"/>
<rect x="549.82" y="288.50" width="1.670" height="78.80" fill="#589960" stroke="#779b7b" stroke-width="0.35"/>
<rect x="551.49" y="291.00" width="1.670" height="76.30" fill="#589960" stroke="#779b7b" stroke-width="0.35"/>
<rect x="553.16" y="291.00" width="1.670" height="76.30" fill="#589960" stroke="#779b7b" stroke-width="0.35"/>
<rect x="554.83" y="287.40" width="1.670" height="79.90" fill="#589960" stroke="#779b7b" stroke-width="0.35"/>
<rect x="556.50" y="300.50" width="1.670" height="66.80" fill="#589960" stroke="#779b7b" stroke-width="0.35"/>
<rect x="558.17" y="302.20" width="1.670" height="65.10" fill="#589960" stroke="#779b7b" stroke-width="0.35"/>
<rect x="559.84" y="298.30" width="1.670" height="69.00" fill="#589960" stroke="#779b7b" stroke-width="0.35"/>
<rect x="561.51" y="291.20" width="1.670" height="76.10" fill="#589960" stroke="#779b7b" stroke-width="0.35"/>
<rect x="563.18" y="286.00" width="1.670" height="81.30" fill="#589960" stroke="#779b7b" stroke-width="0.35"/>
<rect x="564.85" y="283.80" width="1.670" height="83.50" fill="#589960" stroke="#779b7b" stroke-width="0.35"/>
<rect x="566.52" y="289.60" width="1.670" height="77.70" fill="#589960" stroke="#779b7b" stroke-width="0.35"/>
<rect x="568.19" y="292.50" width="1.670" height="74.80" fill="#589960" stroke="#779b7b" stroke-width="0.35"/>
<rect x="569.86" y="291.20" width="1.670" height="76.10" fill="#589960" stroke="#779b7b" stroke-width="0.35"/>
<rect x="571.53" y="290.70" width="1.670" height="76.60" fill="#589960" stroke="#779b7b" stroke-width="0.35"/>
<rect x="573.20" y="285.50" width="1.670" height="81.80" fill="#589960" stroke="#779b7b" stroke-width="0.35"/>
<rect x="574.87" y="282.50" width="1.670" height="84.80" fill="#589960" stroke="#779b7b" stroke-width="0.35"/>
<rect x="576.54" y="281.00" width="1.670" height="86.30" fill="#589960" stroke="#779b7b" stroke-width="0.35"/>
<rect x="578.21" y="278.70" width="1.670" height="88.60" fill="#589960" stroke="#779b7b" stroke-width="0.35"/>
<rect x="579.88" y="278.60" width="1.670" height="88.70" fill="#589960" stroke="#779b7b" stroke-width="0.35"/>
<rect x="581.55" y="273.20" width="1.670" height="94.10" fill="#589960" stroke="#779b7b" stroke-width="0.35"/>
<rect x="583.22" y="274.30" width="1.670" height="93.00" fill="#589960" stroke="#779b7b" stroke-width="0.35"/>
<rect x="584.89" y="281.50" width="1.670" height="85.80" fill="#589960" stroke="#779b7b" stroke-width="0.35"/>
<rect x="586.56" y="282.20" width="1.670" height="85.10" fill="#589960" stroke="#779b7b" stroke-width="0.35"/>
<rect x="588.23" y="281.10" width="1.670" height="86.20" fill="#589960" stroke="#779b7b" stroke-width="0.35"/>
<rect x="589.90" y="277.10" width="1.670" height="90.20" fill="#589960" stroke="#779b7b" stroke-width="0.35"/>
<rect x="591.57" y="279.30" width="1.670" height="88.00" fill="#589960" stroke="#779b7b" stroke-width="0.35"/>
<rect x="593.24" y="272.30" width="1.670" height="95.00" fill="#589960" stroke="#779b7b" stroke-width="0.35"/>
<rect x="594.91" y="269.80" width="1.670" height="97.50" fill="#589960" stroke="#779b7b" stroke-width="0.35"/>
<rect x="596.58" y="257.20" width="1.670" height="110.10" fill="#589960" stroke="#779b7b" stroke-width="0.35"/>
<rect x="598.25" y="272.90" width="1.670" height="94.40" fill="#589960" stroke="#779b7b" stroke-width="0.35"/>
<rect x="599.92" y="274.00" width="1.670" height="93.30" fill="#589960" stroke="#779b7b" stroke-width="0.35"/>
<rect x="601.59" y="278.10" width="1.670" height="89.20" fill="#589960" stroke="#779b7b" stroke-width="0.35"/>
<rect x="603.26" y="284.10" width="1.670" height="83.20" fill="#589960" stroke="#779b7b" stroke-width="0.35"/>
<rect x="604.93" y="288.00" width="1.670" height="79.30" fill="#589960" stroke="#779b7b" stroke-width="0.35"/>
<rect x="606.60" y="261.80" width="1.670" height="105.50" fill="#589960" stroke="#779b7b" stroke-width="0.35"/>
<rect x="608.27" y="273.40" width="1.670" height="93.90" fill="#589960" stroke="#779b7b" stroke-width="0.35"/>
<rect x="609.94" y="284.10" width="1.670" height="83.20" fill="#589960" stroke="#779b7b" stroke-width="0.35"/>
<rect x="611.61" y="279.30" width="1.670" height="88.00" fill="#589960" stroke="#779b7b" stroke-width="0.35"/>
<rect x="613.28" y="297.20" width="1.670" height="70.10" fill="#589960" stroke="#779b7b" stroke-width="0.35"/>
<rect x="614.95" y="299.50" width="1.670" height="67.80" fill="#589960" stroke="#779b7b" stroke-width="0.35"/>
<rect x="616.62" y="301.00" width="1.670" height="66.30" fill="#589960" stroke="#779b7b" stroke-width="0.35"/>
<rect x="618.29" y="301.30" width="1.670" height="66.00" fill="#589960" stroke="#779b7b" stroke-width="0.35"/>
<rect x="619.96" y="301.90" width="1.670" height="65.40" fill="#589960" stroke="#779b7b" stroke-width="0.35"/>
<rect x="621.63" y="314.10" width="1.670" height="53.20" fill="#589960" stroke="#779b7b" stroke-width="0.35"/>
<rect x="623.30" y="322.10" width="1.670" height="45.20" fill="#589960" stroke="#779b7b" stroke-width="0.35"/>
<rect x="624.97" y="322.60" width="1.670" height="44.70" fill="#589960" stroke="#779b7b" stroke-width="0.35"/>
<rect x="626.64" y="322.80" width="1.670" height="44.50" fill="#589960" stroke="#779b7b" stroke-width="0.35"/>
<rect x="628.31" y="318.00" width="1.670" height="49.30" fill="#589960" stroke="#779b7b" stroke-width="0.35"/>
<rect x="629.98" y="326.40" width="1.670" height="40.90" fill="#589960" stroke="#779b7b" stroke-width="0.35"/>
<rect x="631.65" y="328.90" width="1.670" height="38.40" fill="#589960" stroke="#779b7b" stroke-width="0.35"/>
<rect x="633.32" y="330.20" width="1.670" height="37.10" fill="#589960" stroke="#779b7b" stroke-width="0.35"/>
<rect x="634.99" y="334.10" width="1.670" height="33.20" fill="#589960" stroke="#779b7b" stroke-width="0.35"/>
<rect x="636.66" y="335.20" width="1.670" height="32.10" fill="#589960" stroke="#779b7b" stroke-width="0.35"/>
<rect x="638.33" y="338.90" width="1.670" height="28.40" fill="#589960" stroke="#779b7b" stroke-width="0.35"/>
<rect x="640.00" y="333.70" width="1.670" height="33.60" fill="#589960" stroke="#779b7b" stroke-width="0.35"/>
<rect x="641.67" y="339.10" width="1.670" height="28.20" fill="#589960" stroke="#779b7b" stroke-width="0.35"/>
<rect x="643.34" y="343.30" width="1.670" height="24.00" fill="#589960" stroke="#779b7b" stroke-width="0.35"/>
<rect x="645.01" y="345.40" width="1.670" height="21.90" fill="#589960" stroke="#779b7b" stroke-width="0.35"/>
<rect x="646.68" y="350.10" width="1.670" height="17.20" fill="#589960" stroke="#779b7b" stroke-width="0.35"/>
<rect x="648.25" y="273.0" width="1.45" height="94.30" fill="#589960"/>
<path d="M506.4,256.5 L506.4,367.3 L673.9,367.3" stroke="#505050" stroke-width="1" fill="none"/>
<line x1="506.4" y1="367.3" x2="508.9" y2="367.3" stroke="#505050" stroke-width="1"/>
<text x="503.59999999999997" y="372.3" font-size="15.5" text-anchor="end" >0</text>
<line x1="506.4" y1="335.2" x2="508.9" y2="335.2" stroke="#505050" stroke-width="1"/>
<text x="503.59999999999997" y="340.2" font-size="15.5" text-anchor="end" >3</text>
<line x1="506.4" y1="302.9" x2="508.9" y2="302.9" stroke="#505050" stroke-width="1"/>
<text x="503.59999999999997" y="307.9" font-size="15.5" text-anchor="end" >6</text>
<line x1="506.4" y1="270.3" x2="508.9" y2="270.3" stroke="#505050" stroke-width="1"/>
<text x="503.59999999999997" y="275.3" font-size="15.5" text-anchor="end" >9</text>
<line x1="506.40" y1="367.3" x2="506.40" y2="364.8" stroke="#505050" stroke-width="0.9" stroke-opacity="0.7"/>
<text x="507.60" y="381.9" font-size="15.5" text-anchor="middle" >0</text>
<line x1="590.80" y1="367.3" x2="590.80" y2="364.8" stroke="#505050" stroke-width="0.9" stroke-opacity="0.7"/>
<text x="590.80" y="381.9" font-size="15.5" text-anchor="middle" >50</text>
<line x1="674.00" y1="367.3" x2="674.00" y2="364.8" stroke="#505050" stroke-width="0.9" stroke-opacity="0.7"/>
<text x="674.00" y="381.9" font-size="15.5" text-anchor="middle" >100</text>
<text x="590.9" y="398.7" font-size="15" text-anchor="middle" >age</text>
<text x="509.2" y="262.6" font-size="15" text-anchor="start" >×</text>
<text x="519.4" y="262.6" font-size="13.8" text-anchor="start" >10</text>
<text x="535.4" y="255.8" font-size="11.5" text-anchor="start" >5</text>
<text x="0" y="0" font-size="15.3" text-anchor="middle" transform="translate(482.4,311.9) rotate(-90)">population</text>
<text x="463.0" y="264.3" font-size="20.5" text-anchor="start" >(d)</text>
<rect x="47.95" y="478.10" width="6.60" height="34.10" fill="#f7a881" stroke="#3a3a3a" stroke-width="0.75"/>
<rect x="56.82" y="461.50" width="6.60" height="50.70" fill="#f7a881" stroke="#3a3a3a" stroke-width="0.75"/>
<rect x="65.69" y="456.50" width="6.60" height="55.70" fill="#f7a881" stroke="#3a3a3a" stroke-width="0.75"/>
<rect x="74.56" y="457.90" width="6.60" height="54.30" fill="#f7a881" stroke="#3a3a3a" stroke-width="0.75"/>
<rect x="83.43" y="441.50" width="6.60" height="70.70" fill="#f7a881" stroke="#3a3a3a" stroke-width="0.75"/>
<rect x="92.30" y="430.30" width="6.60" height="81.90" fill="#f7a881" stroke="#3a3a3a" stroke-width="0.75"/>
<rect x="101.17" y="435.50" width="6.60" height="76.70" fill="#f7a881" stroke="#3a3a3a" stroke-width="0.75"/>
<rect x="110.04" y="433.60" width="6.60" height="78.60" fill="#f7a881" stroke="#3a3a3a" stroke-width="0.75"/>
<rect x="118.91" y="417.80" width="6.60" height="94.40" fill="#f7a881" stroke="#3a3a3a" stroke-width="0.75"/>
<rect x="127.78" y="416.60" width="6.60" height="95.60" fill="#f7a881" stroke="#3a3a3a" stroke-width="0.75"/>
<rect x="136.65" y="406.40" width="6.60" height="105.80" fill="#f7a881" stroke="#3a3a3a" stroke-width="0.75"/>
<rect x="145.52" y="416.40" width="6.60" height="95.80" fill="#f7a881" stroke="#3a3a3a" stroke-width="0.75"/>
<rect x="154.39" y="414.60" width="6.60" height="97.60" fill="#f7a881" stroke="#3a3a3a" stroke-width="0.75"/>
<rect x="163.26" y="440.30" width="6.60" height="71.90" fill="#f7a881" stroke="#3a3a3a" stroke-width="0.75"/>
<rect x="172.13" y="461.30" width="6.60" height="50.90" fill="#f7a881" stroke="#3a3a3a" stroke-width="0.75"/>
<rect x="181.00" y="474.50" width="6.60" height="37.70" fill="#f7a881" stroke="#3a3a3a" stroke-width="0.75"/>
<rect x="189.87" y="482.50" width="6.60" height="29.70" fill="#f7a881" stroke="#3a3a3a" stroke-width="0.75"/>
<rect x="198.74" y="490.40" width="6.60" height="21.80" fill="#f7a881" stroke="#3a3a3a" stroke-width="0.75"/>
<path d="M42.6,405.2 L42.6,512.2 L210.9,512.2" stroke="#505050" stroke-width="1" fill="none"/>
<line x1="42.6" y1="512.2" x2="45.1" y2="512.2" stroke="#505050" stroke-width="1"/>
<text x="39.800000000000004" y="517.2" font-size="15.5" text-anchor="end" >0</text>
<line x1="42.6" y1="465.6" x2="45.1" y2="465.6" stroke="#505050" stroke-width="1"/>
<text x="39.800000000000004" y="470.6" font-size="15.5" text-anchor="end" >2</text>
<line x1="42.6" y1="418.7" x2="45.1" y2="418.7" stroke="#505050" stroke-width="1"/>
<text x="39.800000000000004" y="423.7" font-size="15.5" text-anchor="end" >4</text>
<line x1="51.25" y1="512.2" x2="51.25" y2="509.70000000000005" stroke="#505050" stroke-width="1"/>
<text x="0" y="0" font-size="15" text-anchor="end" transform="translate(52.75,526.7) rotate(-10)">0-4</text>
<line x1="95.60" y1="512.2" x2="95.60" y2="509.70000000000005" stroke="#505050" stroke-width="1"/>
<text x="0" y="0" font-size="15" text-anchor="end" transform="translate(97.10,526.7) rotate(-10)">25-29</text>
<line x1="139.95" y1="512.2" x2="139.95" y2="509.70000000000005" stroke="#505050" stroke-width="1"/>
<text x="0" y="0" font-size="15" text-anchor="end" transform="translate(141.45,526.7) rotate(-10)">50-54</text>
<line x1="184.30" y1="512.2" x2="184.30" y2="509.70000000000005" stroke="#505050" stroke-width="1"/>
<text x="0" y="0" font-size="15" text-anchor="end" transform="translate(185.80,526.7) rotate(-10)">75-79</text>
<text x="119.6" y="544.6" font-size="14" font-style="italic">g<tspan font-size="10.5" dx="0.8" dy="3.8">a</tspan></text>
<text x="46.9" y="410.4" font-size="15" text-anchor="start" >×</text>
<text x="57.5" y="411.1" font-size="13.8" text-anchor="start" >10</text>
<text x="72.8" y="404.2" font-size="11.5" text-anchor="start" >6</text>
<text x="0" y="0" font-size="15.3" text-anchor="middle" transform="translate(18.6,458.8) rotate(-90)">population</text>
<text x="-0.7999999999999972" y="413" font-size="20.5" text-anchor="start" >(b’)</text>
<rect x="279.65" y="458.80" width="6.60" height="53.40" fill="#b8d5ef" stroke="#3a3a3a" stroke-width="0.75"/>
<rect x="288.52" y="456.30" width="6.60" height="55.90" fill="#b8d5ef" stroke="#3a3a3a" stroke-width="0.75"/>
<rect x="297.39" y="452.60" width="6.60" height="59.60" fill="#b8d5ef" stroke="#3a3a3a" stroke-width="0.75"/>
<rect x="306.26" y="439.40" width="6.60" height="72.80" fill="#b8d5ef" stroke="#3a3a3a" stroke-width="0.75"/>
<rect x="315.13" y="442.60" width="6.60" height="69.60" fill="#b8d5ef" stroke="#3a3a3a" stroke-width="0.75"/>
<rect x="324.00" y="442.20" width="6.60" height="70.00" fill="#b8d5ef" stroke="#3a3a3a" stroke-width="0.75"/>
<rect x="332.87" y="427.30" width="6.60" height="84.90" fill="#b8d5ef" stroke="#3a3a3a" stroke-width="0.75"/>
<rect x="341.74" y="422.30" width="6.60" height="89.90" fill="#b8d5ef" stroke="#3a3a3a" stroke-width="0.75"/>
<rect x="350.61" y="411.40" width="6.60" height="100.80" fill="#b8d5ef" stroke="#3a3a3a" stroke-width="0.75"/>
<rect x="359.48" y="408.70" width="6.60" height="103.50" fill="#b8d5ef" stroke="#3a3a3a" stroke-width="0.75"/>
<rect x="368.35" y="405.90" width="6.60" height="106.30" fill="#b8d5ef" stroke="#3a3a3a" stroke-width="0.75"/>
<rect x="377.22" y="409.40" width="6.60" height="102.80" fill="#b8d5ef" stroke="#3a3a3a" stroke-width="0.75"/>
<rect x="386.09" y="434.20" width="6.60" height="78.00" fill="#b8d5ef" stroke="#3a3a3a" stroke-width="0.75"/>
<rect x="394.96" y="447.40" width="6.60" height="64.80" fill="#b8d5ef" stroke="#3a3a3a" stroke-width="0.75"/>
<rect x="403.83" y="457.00" width="6.60" height="55.20" fill="#b8d5ef" stroke="#3a3a3a" stroke-width="0.75"/>
<rect x="412.70" y="466.10" width="6.60" height="46.10" fill="#b8d5ef" stroke="#3a3a3a" stroke-width="0.75"/>
<rect x="421.57" y="483.40" width="6.60" height="28.80" fill="#b8d5ef" stroke="#3a3a3a" stroke-width="0.75"/>
<rect x="430.44" y="496.40" width="6.60" height="15.80" fill="#b8d5ef" stroke="#3a3a3a" stroke-width="0.75"/>
<path d="M274.8,405.2 L274.8,512.2 L443.1,512.2" stroke="#505050" stroke-width="1" fill="none"/>
<line x1="274.8" y1="512.2" x2="277.3" y2="512.2" stroke="#505050" stroke-width="1"/>
<text x="272.0" y="517.2" font-size="15.5" text-anchor="end" >0</text>
<line x1="274.8" y1="471.3" x2="277.3" y2="471.3" stroke="#505050" stroke-width="1"/>
<text x="272.0" y="476.3" font-size="15.5" text-anchor="end" >3</text>
<line x1="274.8" y1="431.0" x2="277.3" y2="431.0" stroke="#505050" stroke-width="1"/>
<text x="272.0" y="436.0" font-size="15.5" text-anchor="end" >6</text>
<line x1="282.95" y1="512.2" x2="282.95" y2="509.70000000000005" stroke="#505050" stroke-width="1"/>
<text x="0" y="0" font-size="15" text-anchor="end" transform="translate(284.45,526.7) rotate(-10)">0-4</text>
<line x1="327.30" y1="512.2" x2="327.30" y2="509.70000000000005" stroke="#505050" stroke-width="1"/>
<text x="0" y="0" font-size="15" text-anchor="end" transform="translate(328.80,526.7) rotate(-10)">25-29</text>
<line x1="371.65" y1="512.2" x2="371.65" y2="509.70000000000005" stroke="#505050" stroke-width="1"/>
<text x="0" y="0" font-size="15" text-anchor="end" transform="translate(373.15,526.7) rotate(-10)">50-54</text>
<line x1="416.00" y1="512.2" x2="416.00" y2="509.70000000000005" stroke="#505050" stroke-width="1"/>
<text x="0" y="0" font-size="15" text-anchor="end" transform="translate(417.50,526.7) rotate(-10)">75-79</text>
<text x="351.8" y="544.6" font-size="14" font-style="italic">g<tspan font-size="10.5" dx="0.8" dy="3.8">a</tspan></text>
<text x="279.1" y="410.4" font-size="15" text-anchor="start" >×</text>
<text x="289.7" y="411.1" font-size="13.8" text-anchor="start" >10</text>
<text x="305.0" y="404.2" font-size="11.5" text-anchor="start" >4</text>
<text x="0" y="0" font-size="15.3" text-anchor="middle" transform="translate(250.8,458.8) rotate(-90)">population</text>
<text x="231.4" y="413" font-size="20.5" text-anchor="start" >(c’)</text>
<rect x="511.75" y="475.20" width="6.60" height="37.00" fill="#98bd8e" stroke="#3a3a3a" stroke-width="0.75"/>
<rect x="520.62" y="460.40" width="6.60" height="51.80" fill="#98bd8e" stroke="#3a3a3a" stroke-width="0.75"/>
<rect x="529.49" y="458.30" width="6.60" height="53.90" fill="#98bd8e" stroke="#3a3a3a" stroke-width="0.75"/>
<rect x="538.36" y="458.10" width="6.60" height="54.10" fill="#98bd8e" stroke="#3a3a3a" stroke-width="0.75"/>
<rect x="547.23" y="436.70" width="6.60" height="75.50" fill="#98bd8e" stroke="#3a3a3a" stroke-width="0.75"/>
<rect x="556.10" y="426.40" width="6.60" height="85.80" fill="#98bd8e" stroke="#3a3a3a" stroke-width="0.75"/>
<rect x="564.97" y="434.40" width="6.60" height="77.80" fill="#98bd8e" stroke="#3a3a3a" stroke-width="0.75"/>
<rect x="573.84" y="427.10" width="6.60" height="85.10" fill="#98bd8e" stroke="#3a3a3a" stroke-width="0.75"/>
<rect x="582.71" y="418.90" width="6.60" height="93.30" fill="#98bd8e" stroke="#3a3a3a" stroke-width="0.75"/>
<rect x="591.58" y="415.50" width="6.60" height="96.70" fill="#98bd8e" stroke="#3a3a3a" stroke-width="0.75"/>
<rect x="600.45" y="407.50" width="6.60" height="104.70" fill="#98bd8e" stroke="#3a3a3a" stroke-width="0.75"/>
<rect x="609.32" y="416.60" width="6.60" height="95.60" fill="#98bd8e" stroke="#3a3a3a" stroke-width="0.75"/>
<rect x="618.19" y="416.60" width="6.60" height="95.60" fill="#98bd8e" stroke="#3a3a3a" stroke-width="0.75"/>
<rect x="627.06" y="442.60" width="6.60" height="69.60" fill="#98bd8e" stroke="#3a3a3a" stroke-width="0.75"/>
<rect x="635.93" y="463.30" width="6.60" height="48.90" fill="#98bd8e" stroke="#3a3a3a" stroke-width="0.75"/>
<rect x="644.80" y="475.20" width="6.60" height="37.00" fill="#98bd8e" stroke="#3a3a3a" stroke-width="0.75"/>
<rect x="653.67" y="484.50" width="6.60" height="27.70" fill="#98bd8e" stroke="#3a3a3a" stroke-width="0.75"/>
<rect x="662.54" y="491.60" width="6.60" height="20.60" fill="#98bd8e" stroke="#3a3a3a" stroke-width="0.75"/>
<path d="M506.4,405.2 L506.4,512.2 L674.7,512.2" stroke="#505050" stroke-width="1" fill="none"/>
<line x1="506.4" y1="512.2" x2="508.9" y2="512.2" stroke="#505050" stroke-width="1"/>
<text x="503.59999999999997" y="517.2" font-size="15.5" text-anchor="end" >0</text>
<line x1="506.4" y1="465.6" x2="508.9" y2="465.6" stroke="#505050" stroke-width="1"/>
<text x="503.59999999999997" y="470.6" font-size="15.5" text-anchor="end" >2</text>
<line x1="506.4" y1="418.7" x2="508.9" y2="418.7" stroke="#505050" stroke-width="1"/>
<text x="503.59999999999997" y="423.7" font-size="15.5" text-anchor="end" >4</text>
<line x1="515.05" y1="512.2" x2="515.05" y2="509.70000000000005" stroke="#505050" stroke-width="1"/>
<text x="0" y="0" font-size="15" text-anchor="end" transform="translate(516.55,526.7) rotate(-10)">0-4</text>
<line x1="559.40" y1="512.2" x2="559.40" y2="509.70000000000005" stroke="#505050" stroke-width="1"/>
<text x="0" y="0" font-size="15" text-anchor="end" transform="translate(560.90,526.7) rotate(-10)">25-29</text>
<line x1="603.75" y1="512.2" x2="603.75" y2="509.70000000000005" stroke="#505050" stroke-width="1"/>
<text x="0" y="0" font-size="15" text-anchor="end" transform="translate(605.25,526.7) rotate(-10)">50-54</text>
<line x1="648.10" y1="512.2" x2="648.10" y2="509.70000000000005" stroke="#505050" stroke-width="1"/>
<text x="0" y="0" font-size="15" text-anchor="end" transform="translate(649.60,526.7) rotate(-10)">75-79</text>
<text x="583.4" y="544.6" font-size="14" font-style="italic">g<tspan font-size="10.5" dx="0.8" dy="3.8">a</tspan></text>
<text x="510.7" y="410.4" font-size="15" text-anchor="start" >×</text>
<text x="521.3" y="411.1" font-size="13.8" text-anchor="start" >10</text>
<text x="536.6" y="404.2" font-size="11.5" text-anchor="start" >6</text>
<text x="0" y="0" font-size="15.3" text-anchor="middle" transform="translate(482.4,458.8) rotate(-90)">population</text>
<text x="463.0" y="413" font-size="20.5" text-anchor="start" >(d’)</text>
</g>
</svg>
</body></html>
